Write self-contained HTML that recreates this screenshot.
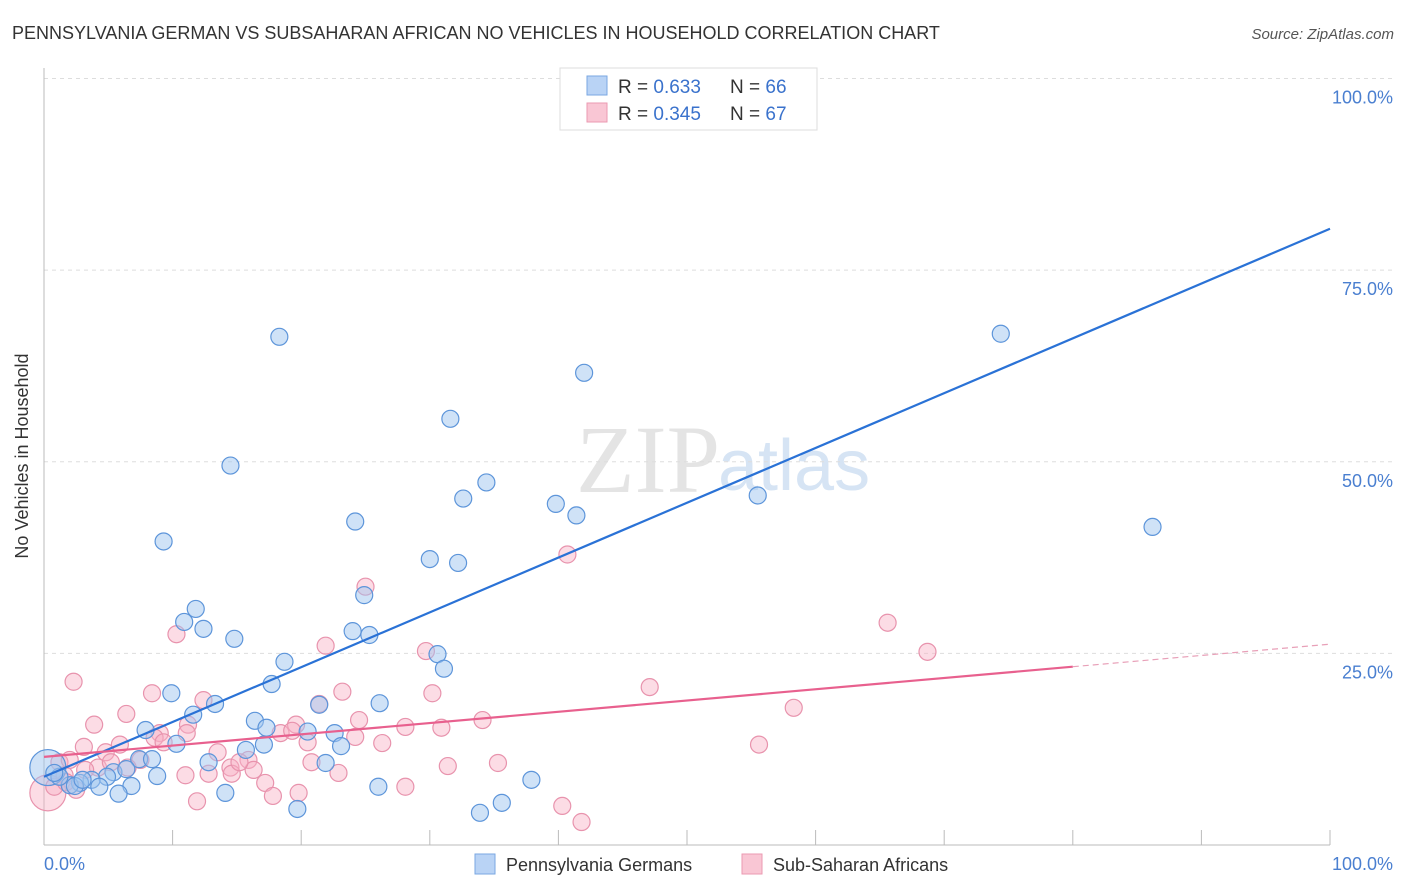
<!DOCTYPE html>
<html><head><meta charset="utf-8"><style>
body{margin:0;background:#fff;font-family:"Liberation Sans",sans-serif;}
svg{display:block}
</style></head><body>
<svg id="chart" width="1406" height="892" xmlns="http://www.w3.org/2000/svg">
<text x="12" y="39" font-size="18" fill="#333">PENNSYLVANIA GERMAN VS SUBSAHARAN AFRICAN NO VEHICLES IN HOUSEHOLD CORRELATION CHART</text>
<text x="1394" y="39" font-size="15" fill="#555" font-style="italic" text-anchor="end">Source: ZipAtlas.com</text>
<text x="720" y="492" font-size="96" fill="#e4e4e4" text-anchor="end" font-family="Liberation Serif,serif">ZIP</text>
<text x="718" y="490" font-size="72" fill="#d6e4f4">atlas</text>
<g id="grid"></g>
<g id="axes"></g>
<g id="marks"></g>
<g id="lines"></g>
<text x="28" y="456" font-size="18" fill="#333" text-anchor="middle" transform="rotate(-90 28 456)">No Vehicles in Household</text>
<text x="44" y="870" font-size="18" fill="#4a7fd0">0.0%</text>
<text x="1393" y="870" font-size="18" fill="#4a7fd0" text-anchor="end">100.0%</text>
<g>
<rect x="560" y="68" width="257" height="62" fill="#fff" stroke="#ddd"/>
<rect x="587" y="76" width="20" height="19" fill="#b9d3f5" stroke="#7aa7e2"/>
<rect x="587" y="103" width="20" height="19" fill="#f9c6d4" stroke="#eb9ab2"/>
<text x="618" y="93" font-size="19" fill="#333">R = <tspan fill="#3a72cc">0.633</tspan><tspan x="730">N = </tspan><tspan fill="#3a72cc">66</tspan></text>
<text x="618" y="120" font-size="19" fill="#333">R = <tspan fill="#3a72cc">0.345</tspan><tspan x="730">N = </tspan><tspan fill="#3a72cc">67</tspan></text>
</g>
<g>
<rect x="475" y="854" width="20" height="20" fill="#b9d3f5" stroke="#7aa7e2"/>
<text x="506" y="871" font-size="18" fill="#333">Pennsylvania Germans</text></g>
<g>
<rect x="742" y="854" width="20" height="20" fill="#f9c6d4" stroke="#eb9ab2"/>
<text x="773" y="871" font-size="18" fill="#333">Sub-Saharan Africans</text></g>
</svg>
<script>
const yTicks=[25,50,75,100];
const yTickLabels=["25.0%","50.0%","75.0%","100.0%"];
const xTicks=[0,10,20,30,40,50,60,70,80,90,100];
const blueX=[0.3,18.3,14.5,9.3,42.0,31.6,74.4,34.4,32.6,39.8,41.4,55.5,86.2,24.2,30.0,32.2,24.9,11.8,10.9,12.4,14.8,24.0,25.3,30.6,31.1,18.7,17.7,9.9,13.3,21.4,26.1,11.6,7.9,16.4,17.3,20.5,10.3,17.1,15.7,22.6,23.1,7.4,8.4,12.8,21.9,5.4,6.4,8.8,4.9,3.7,2.8,2.0,1.2,0.8,4.3,2.4,3.0,6.8,5.8,14.1,26.0,37.9,35.6,33.9,19.7,54.1];
const blueY=[10.1,66.3,49.5,39.6,61.6,55.6,66.7,47.3,45.2,44.5,43.0,45.6,41.5,42.2,37.3,36.8,32.6,30.8,29.1,28.2,26.9,27.9,27.4,24.9,23.0,23.9,21.0,19.8,18.4,18.3,18.5,17.0,15.0,16.2,15.3,14.8,13.2,13.1,12.4,14.6,12.9,11.2,11.2,10.8,10.7,9.5,9.9,9.0,8.9,8.5,8.1,7.8,8.9,9.4,7.6,7.7,8.5,7.7,6.7,6.8,7.6,8.5,5.5,4.2,4.7,99.9];
const pinkX=[0.3,2.3,10.3,21.9,25.0,40.7,65.6,68.7,47.1,8.4,12.4,23.2,30.2,29.7,3.9,6.4,11.2,9.0,13.5,58.3,21.4,24.5,34.1,28.1,30.9,11.1,19.6,18.4,20.5,24.2,26.3,5.9,3.1,4.8,7.5,15.9,14.5,4.2,5.2,6.5,1.2,2.0,0.8,1.6,12.8,14.6,16.3,17.2,20.8,22.9,31.4,35.3,55.6,28.1,17.8,19.8,11.9,40.3,41.8,15.2,8.6,9.3,3.2,2.5,1.7,19.3,11.0];
const pinkY=[6.8,21.3,27.5,26.0,33.7,37.9,29.0,25.2,20.6,19.8,18.9,20.0,19.8,25.3,15.7,17.1,15.7,14.6,12.1,17.9,18.4,16.3,16.3,15.4,15.3,14.6,15.7,14.6,13.4,14.1,13.3,13.1,12.8,12.1,11.1,11.1,10.1,10.1,10.8,10.1,10.8,11.1,7.6,9.1,9.3,9.3,9.8,8.1,10.8,9.4,10.3,10.7,13.1,7.6,6.4,6.8,5.7,5.1,3.0,10.8,14.0,13.4,9.8,7.2,8.2,14.9,9.1];
const blueTrend=[8.9,80.4];
const pinkTrend=[11.5,26.2];
const NS="http://www.w3.org/2000/svg";
const X=v=>44+v*12.86, Y=v=>845-v*7.665;
function mk(t,a,p){const e=document.createElementNS(NS,t);for(const k in a)e.setAttribute(k,a[k]);p.appendChild(e);return e;}
const grid=document.getElementById('grid'),axes=document.getElementById('axes'),marks=document.getElementById('marks'),lines=document.getElementById('lines');
yTicks.forEach((t,i)=>{
 const l=mk('line',{x1:44,x2:1394,y1:Y(t),y2:Y(t),stroke:'#ddd','stroke-dasharray':'4 4'},grid);
 
 
 const tx=mk('text',{x:1393,y:Y(t)+25,'font-size':18,fill:'#4a7fd0','text-anchor':'end'},grid);
 tx.textContent=yTickLabels[i];
 
 
});
const ya=mk('line',{x1:44,x2:44,y1:68,y2:845,stroke:'#bbb'},axes);


const xa=mk('line',{x1:44,x2:1330,y1:845,y2:845,stroke:'#bbb'},axes);


xTicks.forEach(t=>{
 const l=mk('line',{x1:X(t),x2:X(t),y1:830,y2:845,stroke:'#bbb'},axes);
 
 
});
function pts(xs,ys,fill,stroke,name){
 xs.forEach((v,i)=>{
  const c=mk('circle',{cx:X(v),cy:Y(ys[i]),r:i===0?18:8.5,fill:fill,stroke:stroke,'stroke-width':1.2},marks);
  
  
 });
}
pts(pinkX,pinkY,'rgba(248,178,198,0.45)','#e893ad','point-subsaharan-african');
pts(blueX,blueY,'rgba(160,198,240,0.5)','#5d95da','point-pennsylvania-german');
const bl=mk('line',{x1:X(0),y1:Y(blueTrend[0]),x2:X(100),y2:Y(blueTrend[1]),stroke:'#2a72d6','stroke-width':2.2},lines);


const pm=pinkTrend[0]+(pinkTrend[1]-pinkTrend[0])*0.8;
const pl=mk('line',{x1:X(0),y1:Y(pinkTrend[0]),x2:X(80),y2:Y(pm),stroke:'#e8608e','stroke-width':2.2},lines);


const pd=mk('line',{x1:X(80),y1:Y(pm),x2:X(100),y2:Y(pinkTrend[1]),stroke:'#e8a0b8','stroke-width':1.2,'stroke-dasharray':'6 4'},lines);


</script>
</body></html>
